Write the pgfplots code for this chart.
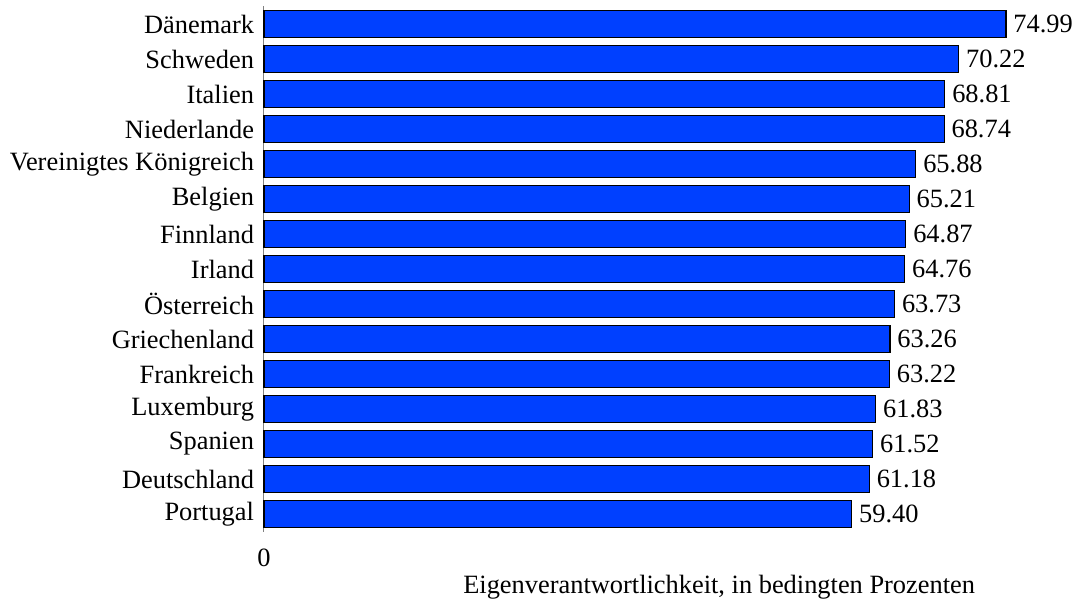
\documentclass[border=0pt]{standalone}
\usepackage{pgfplots}
\pgfplotsset{compat=1.18}
\usepackage{fontspec}
\setmainfont{Liberation Serif}
\definecolor{barblue}{RGB}{0,64,255}
\begin{document}
\fontsize{26.4}{30}\selectfont
\begin{tikzpicture}[x=1pt,y=1pt]
\path[use as bounding box] (-264,-73.5) rectangle (812,531.5);
\begin{axis}[
  scale only axis,
  width=791.6pt, height=525pt,
  xmin=0, xmax=80,
  ymin=-0.5, ymax=14.5,
  xbar, bar width=27pt,
  bar shift=0pt,
  axis line style={draw=none},
  xtick={0}, xticklabels={0},
  xticklabel style={yshift=-8pt},
  ytick={0,...,14},
  yticklabels={Portugal,Deutschland,Spanien,Luxemburg,Frankreich,Griechenland,Österreich,Irland,Finnland,Belgien,Vereinigtes Königreich,Niederlande,Italien,Schweden,Dänemark},
  yticklabel style={xshift=-1pt},
  major tick length=0pt,
  tick style={draw=none},
  ticklabel style={font=\fontsize{26.4}{30}\selectfont},
  xlabel={Eigenverantwortlichkeit, in bedingten Prozenten},
  xlabel style={at={(rel axis cs:0.575,0)}, anchor=center, yshift=-56pt, font=\fontsize{26.4}{30}\selectfont},
  nodes near coords,
  nodes near coords style={anchor=west, xshift=-2pt, font=\fontsize{26.4}{30}\selectfont},
  point meta=explicit symbolic,
  clip=false,
]
\draw[gray, line width=1pt] (axis cs:0,-0.5) -- (axis cs:0,14.5);
\addplot[fill=barblue, draw=black, line width=1.2pt] table[x=v, y=i, meta=l] {
i v l
0 59.40 59.40
1 61.18 61.18
2 61.52 61.52
3 61.83 61.83
4 63.22 63.22
5 63.26 63.26
6 63.73 63.73
7 64.76 64.76
8 64.87 64.87
9 65.21 65.21
10 65.88 65.88
11 68.74 68.74
12 68.81 68.81
13 70.22 70.22
14 74.99 74.99
};
\end{axis}
\end{tikzpicture}
\end{document}
